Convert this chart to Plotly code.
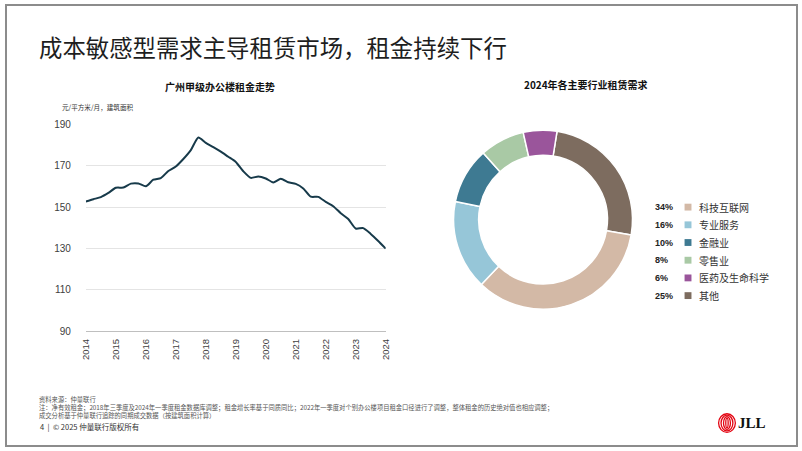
import plotly.graph_objects as go

W, H = 802, 451

# ---------------- data ----------------
years = list(range(2014, 2025))
quarter_labels = [f"{y}Q{q}" for y in range(2014, 2024) for q in range(1, 5)] + ["2024Q1"]
rent = [152.7, 153.8, 154.8, 156.8, 159.3, 159.4, 161.3, 161.4,
        160.0, 163.2, 164.0, 167.4, 169.6, 173.2, 177.5, 183.6,
        181.0, 179.0, 176.8, 174.3, 171.8, 167.3, 164.1, 164.8,
        163.8, 161.9, 163.7, 162.0, 161.2, 159.0, 155.0, 154.9,
        152.5, 150.4, 147.0, 144.2, 139.6, 139.8, 137.0, 133.6,
        129.9]
y_ticks = [90, 110, 130, 150, 170, 190]

industries = ["科技互联网", "专业服务", "金融业", "零售业", "医药及生命科学", "其他"]
shares = [34, 16, 10, 8, 6, 25]
colors = ["#D3B9A6", "#96C6D8", "#3E7A92", "#A9C9A5", "#9A559B", "#7D6C5F"]
# clockwise drawing order around the ring (starting at top with 其他)
ring_order = [5, 0, 1, 2, 3, 4]

title_text = "成本敏感型需求主导租赁市场，租金持续下行"
left_title = "广州甲级办公楼租金走势"
unit_text = "元/平方米/月，建筑面积"
right_title = "2024年各主要行业租赁需求"
footer_lines = [
    "资料来源：仲量联行",
    "注：净有效租金；2018年三季度及2024年一季度租金数据库调整；租金增长率基于同质同比；2022年一季度对个别办公楼项目租金口径进行了调整，整体租金的历史绝对值也相应调整；",
    "成交分析基于仲量联行追踪的同期成交数据（按建筑面积计算）",
]
page_text = "4  |  © 2025 仲量联行版权所有"


def qx(label):
    y, q = label.split("Q")
    return int(y) + (int(q) - 1) / 4


def px(x):
    return x / W


def py(y):
    return 1 - y / H


CJK = "Noto Sans CJK SC, Noto Sans, sans-serif"
LAT = "Liberation Sans, Arial, sans-serif"

fig = go.Figure()

fig.add_trace(go.Scatter(
    x=[qx(q) for q in quarter_labels], y=rent, mode="lines",
    line=dict(color="#173A4A", width=2, shape="spline", smoothing=0.6),
    hoverinfo="x+y", showlegend=False,
))

fig.add_trace(go.Pie(
    labels=[industries[i] for i in ring_order],
    values=[shares[i] for i in ring_order],
    marker=dict(colors=[colors[i] for i in ring_order], line=dict(color="white", width=1.5)),
    hole=0.72, sort=False, direction="clockwise", rotation=9,
    textinfo="none", showlegend=False,
    domain=dict(x=[px(453), px(636)], y=[py(311), py(128)]),
))

fig.update_layout(
    width=W, height=H, margin=dict(l=0, r=0, t=0, b=0),
    paper_bgcolor="white", plot_bgcolor="white",
    font=dict(family=CJK, color="#333333"),
    xaxis=dict(domain=[px(81), px(385)], range=[2014, 2024],
               tickvals=years, ticktext=[str(y) for y in years], tickangle=-90,
               tickfont=dict(family=LAT, size=9.5, color="#404040"),
               showgrid=False, zeroline=False, showline=True, linecolor="#BFBFBF", linewidth=1,
               ticks="outside", ticklen=3, tickcolor="rgba(0,0,0,0)"),
    yaxis=dict(domain=[py(333.5), py(122)], range=[90, 190], tickvals=y_ticks,
               tickfont=dict(family=LAT, size=10, color="#404040"),
               showgrid=True, gridcolor="#E4E4E4", gridwidth=1, zeroline=False,
               showline=False, ticks="outside", ticklen=12, tickcolor="rgba(0,0,0,0)"),
)

ann = []


def note(x, y, text, size, color, family=CJK, anchor="left"):
    ann.append(dict(xref="paper", yref="paper", x=px(x), y=py(y), text=text, showarrow=False,
                    xanchor=anchor, yanchor="middle", align="left",
                    font=dict(family=family, size=size, color=color)))


note(31, 43, title_text, 23.4, "#1E1E1E")
note(217, 83.5, f"<b>{left_title}</b>", 10, "#111111", anchor="center")
note(55, 104.5, unit_text, 6.6, "#333333")
note(588, 81, f"<b>{right_title}</b>", 10, "#111111", anchor="center")

shapes = []
row0, step = 206.7, 18.1
for i, (name, v, c) in enumerate(zip(industries, shares, colors)):
    yy = row0 + i * step
    note(656, yy, f"<b>{v}%</b>", 9, "#222222", family=LAT)
    note(701, yy, name, 10, "#333333")
    shapes.append(dict(type="rect", xref="paper", yref="paper", x0=px(688), x1=px(695),
                       y0=py(yy + 3.5), y1=py(yy - 3.5), fillcolor=c, line=dict(width=0)))

note(31, 412, "<br>".join(footer_lines), 6.3, "#555555")
note(32, 430.8, page_text, 7.5, "#333333")

# JLL logo
for w_, h_ in [(8.5, 9.5), (6, 8), (3.5, 6.5), (1.2, 5)]:
    shapes.append(dict(type="circle", xref="paper", yref="paper",
                       x0=px(731 - w_), x1=px(731 + w_), y0=py(427.5 + h_), y1=py(427.5 - h_),
                       line=dict(color="#E30613", width=1.3)))
note(740, 427.5, "<b>JLL</b>", 15, "#111111", family="Liberation Serif, serif")

# thin page border
shapes.append(dict(type="rect", xref="paper", yref="paper", x0=0, x1=1, y0=0, y1=1,
                   line=dict(color="#8C8C8C", width=2)))

fig.update_layout(annotations=ann, shapes=shapes)

fig.write_html("out.html", config={"displayModeBar": False},
               post_script="document.body.style.margin='0';document.body.style.overflow='hidden';")
